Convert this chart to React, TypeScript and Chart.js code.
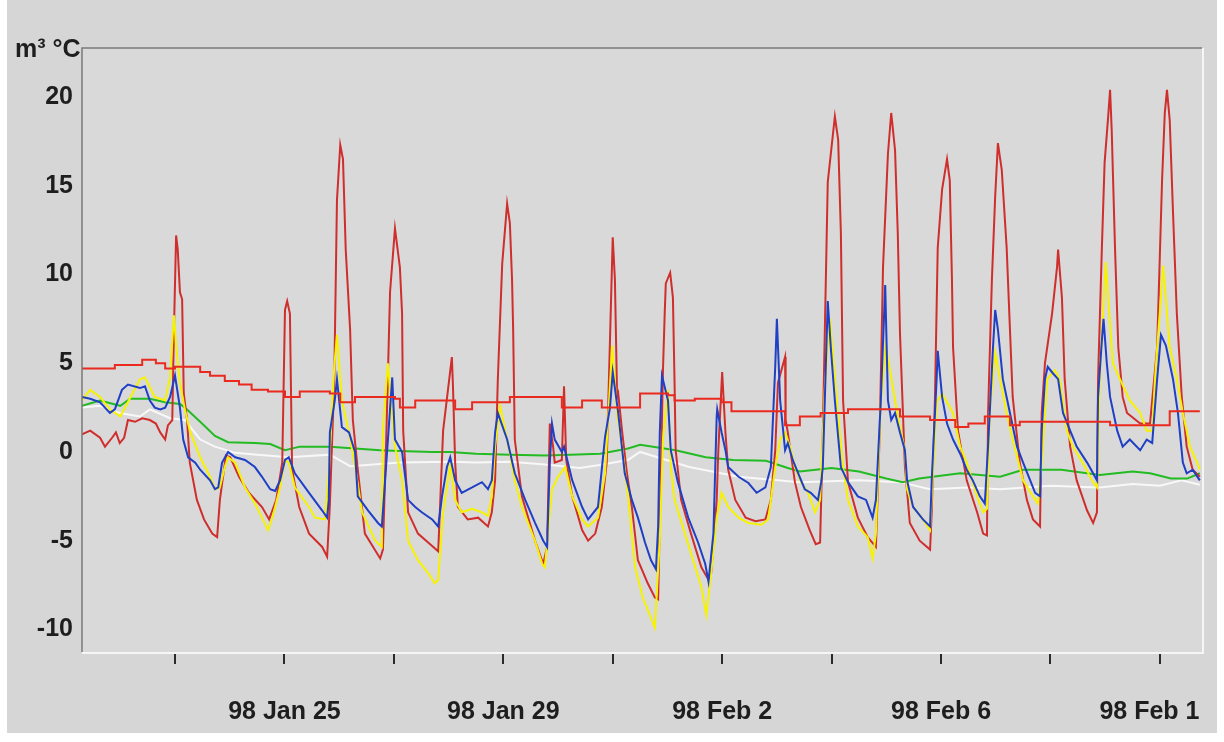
import React, { useEffect, useRef } from 'react';
import { Chart, registerables } from 'chart.js';

Chart.register(...registerables);

// ---- axis definitions ----
const xMinDay = 21.3;
const xMaxDay = 41.77;
const yMinVal = -11.27;
const yMaxVal = 22.76;
const xTickDays = [23, 25, 27, 29, 31, 33, 35, 37, 39, 41];
const xLabelDays = [25, 29, 33, 37, 41];
const xLabelTexts = ['98 Jan 25', '98 Jan 29', '98 Feb 2', '98 Feb 6', '98 Feb 1   '];
const yTickValues = [-10, -5, 0, 5, 10, 15, 20];
const unitLabel = 'm³ °C';

// ---- series: [day (Jan 23 = 23, Feb 2 = 33), value] ----
const redStep: number[][] = [
  [21.3, 4.7], [21.63, 4.7], [21.9, 4.9], [22.27, 4.9], [22.4, 5.2], [22.65, 5.0], [22.82, 4.7],
  [23.0, 4.8], [23.18, 4.8], [23.46, 4.5], [23.64, 4.3], [23.91, 4.0], [24.17, 3.8], [24.4, 3.5],
  [24.7, 3.4], [25.01, 3.1], [25.28, 3.4], [25.83, 3.3], [26.02, 2.8], [26.29, 3.1], [26.6, 3.1],
  [27.02, 3.0], [27.11, 2.5], [27.39, 2.9], [28.03, 2.9], [28.12, 2.4], [28.43, 2.8], [29.12, 3.1],
  [29.76, 3.1], [30.07, 2.5], [30.44, 2.9], [30.8, 2.5], [31.26, 2.5], [31.5, 3.3], [32.01, 3.2],
  [32.13, 2.9], [32.5, 3.0], [32.99, 2.8], [33.17, 2.3], [33.89, 2.3], [34.15, 1.5], [34.42, 2.0],
  [34.8, 2.2], [35.3, 2.4], [35.88, 2.4], [36.25, 2.0], [36.8, 1.8], [37.26, 1.4], [37.5, 1.6],
  [37.8, 2.0], [38.26, 1.5], [38.44, 1.7], [39.9, 1.7], [40.09, 1.5], [41.11, 1.5], [41.18, 2.3],
  [41.73, 2.3],
];

const redSpiky: number[][] = [
  [21.3, 1.0], [21.45, 1.2], [21.63, 0.8], [21.72, 0.3], [21.85, 0.8], [21.92, 1.1], [21.99, 0.5],
  [22.07, 0.8], [22.14, 1.8], [22.27, 1.7], [22.4, 1.9], [22.54, 1.8], [22.65, 1.6], [22.73, 1.1],
  [22.82, 0.7], [22.87, 1.5], [22.95, 1.8], [22.98, 6.8], [23.02, 12.2], [23.05, 11.4], [23.09, 9.0],
  [23.13, 8.6], [23.16, 3.3], [23.22, 1.8], [23.27, -0.6], [23.4, -2.7], [23.53, -3.8], [23.68, -4.6],
  [23.77, -4.8], [23.82, -2.7], [23.93, -0.2], [24.01, -0.3], [24.17, -1.4], [24.35, -2.3],
  [24.59, -3.1], [24.72, -3.8], [24.85, -2.7], [24.96, -0.6], [25.01, 8.0], [25.05, 8.5], [25.1, 7.8],
  [25.14, -1.0], [25.27, -3.1], [25.45, -4.6], [25.69, -5.35], [25.78, -5.9], [25.83, -3.0],
  [25.91, 4.0], [25.96, 14.2], [26.02, 17.3], [26.07, 16.5], [26.12, 11.4], [26.2, 6.9], [26.25, 1.8],
  [26.34, -1.0], [26.47, -4.6], [26.75, -6.0], [26.8, -5.5], [26.87, 1.8], [26.93, 9.0], [27.02, 12.6],
  [27.11, 10.4], [27.15, 7.8], [27.17, 1.2], [27.26, -3.4], [27.44, -4.6], [27.7, -5.3], [27.81, -5.6],
  [27.84, -3.4], [27.9, 1.2], [28.06, 5.35], [28.08, 3.7], [28.12, -0.6], [28.17, -3.1], [28.35, -3.8],
  [28.54, -3.7], [28.72, -4.2], [28.79, -3.4], [28.85, -1.6], [28.9, 4.1], [28.98, 10.6], [29.07, 14.0],
  [29.12, 12.9], [29.16, 9.7], [29.18, 6.9], [29.21, 0.7], [29.34, -2.5], [29.58, -5.0], [29.73, -6.3],
  [29.8, -5.35], [29.85, 1.6], [29.91, 0.3], [29.94, -0.6], [30.07, -0.45], [30.11, 3.7], [30.15, -0.45],
  [30.26, -2.5], [30.44, -4.4], [30.55, -5.0], [30.68, -4.6], [30.8, -3.1], [30.89, -0.6], [31.0, 12.1],
  [31.04, 9.7], [31.08, 3.1], [31.1, 3.3], [31.17, 1.2], [31.26, -1.2], [31.35, -3.1], [31.46, -6.1],
  [31.64, -7.4], [31.77, -8.2], [31.83, -8.3], [31.92, 4.8], [31.95, 7.8], [31.97, 9.5], [32.05, 10.1],
  [32.1, 8.7], [32.13, 3.9], [32.15, 0.1], [32.25, -2.7], [32.43, -4.6], [32.62, -6.5], [32.75, -7.2],
  [32.8, -6.8], [32.9, -2.7], [32.93, 0.1], [33.0, 4.5], [33.06, 1.1], [33.11, -1.0], [33.24, -2.7],
  [33.43, -3.7], [33.61, -3.9], [33.79, -3.8], [33.89, -2.7], [33.97, 0.1], [34.02, 3.9], [34.15, 5.35],
  [34.16, 1.8], [34.2, 1.1], [34.33, -1.7], [34.44, -3.1], [34.6, -4.4], [34.71, -5.2], [34.79, -5.1],
  [34.84, 1.1], [34.93, 15.2], [35.06, 18.9], [35.12, 17.6], [35.17, 12.3], [35.21, 2.9], [35.3, -1.7],
  [35.48, -3.7], [35.66, -4.8], [35.81, -5.35], [35.88, 1.1], [35.94, 10.4], [36.03, 16.8], [36.09, 19.1],
  [36.16, 17.0], [36.21, 12.3], [36.25, 6.7], [36.34, -0.8], [36.43, -4.0], [36.61, -5.0], [36.8, -5.5],
  [36.83, -3.4], [36.89, 3.1], [36.94, 11.5], [37.02, 14.8], [37.11, 16.5], [37.16, 15.3], [37.2, 9.7],
  [37.22, 5.9], [37.31, 1.2], [37.47, -1.6], [37.66, -3.4], [37.77, -4.6], [37.84, -4.7], [37.86, 2.2],
  [37.93, 9.7], [37.99, 14.4], [38.04, 17.4], [38.11, 15.9], [38.2, 11.5], [38.26, 6.9], [38.31, 3.1],
  [38.44, -0.6], [38.57, -2.7], [38.68, -3.8], [38.81, -4.2], [38.84, 2.2], [38.9, 5.0], [39.03, 7.8],
  [39.12, 10.4], [39.14, 11.4], [39.21, 8.7], [39.26, 4.1], [39.36, 0.3], [39.48, -1.6], [39.67, -3.3],
  [39.78, -4.0], [39.85, -3.4], [39.87, 4.1], [39.94, 11.5], [39.99, 16.3], [40.05, 18.7], [40.09, 20.4],
  [40.12, 18.1], [40.18, 11.5], [40.24, 5.9], [40.32, 3.1], [40.4, 2.2], [40.64, 1.6], [40.82, 1.6],
  [40.95, 5.9], [41.04, 15.3], [41.09, 19.1], [41.13, 20.4], [41.18, 18.7], [41.24, 13.5], [41.31, 7.8],
  [41.4, 3.1], [41.49, 0.3], [41.6, -1.0], [41.73, -1.4],
];

const yellow: number[][] = [
  [21.3, 2.9], [21.45, 3.5], [21.63, 3.1], [21.81, 2.4], [22.0, 2.0], [22.36, 4.1], [22.45, 4.2],
  [22.63, 3.1], [22.82, 2.9], [22.91, 4.2], [22.98, 7.7], [23.02, 6.0], [23.09, 3.9], [23.18, 2.4],
  [23.27, 1.2], [23.46, -0.3], [23.64, -1.4], [23.73, -2.1], [23.82, -2.0], [23.91, -0.85], [23.97, -0.3],
  [24.1, -0.6], [24.28, -2.0], [24.46, -2.9], [24.59, -3.7], [24.7, -4.4], [24.77, -3.8], [24.92, -2.0],
  [25.01, -0.45], [25.08, -0.6], [25.19, -2.0], [25.45, -3.1], [25.56, -3.7], [25.74, -3.8], [25.81, -1.2],
  [25.91, 4.8], [25.96, 6.6], [26.05, 2.9], [26.18, 1.1], [26.29, -0.8], [26.42, -3.4], [26.66, -5.0],
  [26.78, -5.35], [26.8, 1.2], [26.89, 5.0], [27.02, 0.3], [27.15, -1.6], [27.26, -5.0], [27.44, -6.1],
  [27.62, -6.8], [27.75, -7.4], [27.81, -7.2], [27.9, -3.4], [28.03, -0.7], [28.12, -2.7], [28.24, -3.4],
  [28.43, -3.2], [28.61, -3.4], [28.72, -3.6], [28.79, -2.5], [28.85, 0.3], [28.94, 2.6], [29.07, 0.7],
  [29.21, -1.6], [29.34, -3.1], [29.58, -5.0], [29.71, -6.3], [29.76, -6.5], [29.82, -4.4], [29.89, -2.1],
  [30.0, -1.4], [30.13, -0.85], [30.26, -2.5], [30.44, -3.8], [30.55, -4.2], [30.73, -3.7], [30.86, -1.2],
  [30.99, 6.0], [31.08, 2.2], [31.17, 0.3], [31.28, -2.5], [31.37, -5.35], [31.41, -6.5], [31.55, -8.2],
  [31.64, -8.9], [31.77, -9.9], [31.86, -5.0], [31.92, 0.8], [32.01, 3.5], [32.06, -0.8], [32.13, -2.7],
  [32.32, -4.6], [32.51, -6.5], [32.62, -7.6], [32.71, -9.2], [32.8, -6.8], [32.9, -3.7], [32.99, -2.3],
  [33.11, -3.1], [33.3, -3.7], [33.48, -4.0], [33.72, -4.1], [33.84, -3.8], [33.89, -2.7], [33.97, -0.85],
  [34.06, 0.7], [34.15, 1.1], [34.24, 0.3], [34.33, -0.85], [34.44, -1.7], [34.57, -2.3], [34.7, -3.4],
  [34.79, -2.7], [34.88, 3.9], [34.97, 7.5], [35.12, 2.0], [35.21, -0.85], [35.3, -2.7], [35.48, -4.2],
  [35.66, -4.8], [35.75, -6.0], [35.81, -4.6], [35.9, 2.9], [35.99, 6.0], [36.09, 4.2], [36.21, 2.0],
  [36.34, 0.1], [36.38, -2.1], [36.49, -3.1], [36.67, -3.8], [36.8, -4.4], [36.83, -2.5], [36.92, 2.8],
  [37.02, 3.3], [37.22, 2.2], [37.35, 0.3], [37.47, -0.6], [37.66, -2.5], [37.77, -3.4], [37.84, -3.2],
  [37.89, 2.2], [37.99, 5.6], [38.08, 4.1], [38.2, 2.2], [38.31, 0.7], [38.5, -1.6], [38.68, -2.5],
  [38.77, -2.9], [38.84, -0.6], [38.94, 4.1], [39.08, 4.6], [39.17, 4.1], [39.3, 1.2], [39.41, 0.3],
  [39.59, -0.6], [39.76, -1.6], [39.85, -2.0], [39.9, 4.1], [40.01, 10.7], [40.14, 5.0], [40.27, 4.1],
  [40.45, 2.9], [40.64, 2.2], [40.76, 1.2], [40.86, 1.2], [40.91, 4.1], [41.06, 10.5], [41.18, 5.9],
  [41.31, 4.1], [41.42, 2.2], [41.55, 0.3], [41.68, -0.6], [41.73, -1.0],
];

const blue: number[][] = [
  [21.3, 3.1], [21.45, 3.0], [21.63, 2.8], [21.81, 2.2], [21.9, 2.4], [22.03, 3.5], [22.14, 3.8],
  [22.36, 3.6], [22.45, 3.7], [22.54, 2.9], [22.63, 2.5], [22.73, 2.4], [22.82, 2.5], [22.91, 3.1],
  [23.0, 4.3], [23.09, 2.5], [23.15, 0.7], [23.24, -0.3], [23.37, -0.6], [23.46, -1.0], [23.64, -1.6],
  [23.73, -2.1], [23.79, -2.0], [23.86, -0.6], [23.97, 0.0], [24.1, -0.3], [24.28, -0.45], [24.46, -0.85],
  [24.59, -1.4], [24.74, -2.1], [24.83, -2.2], [24.92, -1.6], [25.01, -0.45], [25.08, -0.3], [25.19, -1.2],
  [25.45, -2.3], [25.69, -3.3], [25.78, -3.7], [25.81, -2.7], [25.83, 1.1], [25.92, 2.9], [25.96, 4.1],
  [26.05, 1.4], [26.18, 1.1], [26.29, 0.0], [26.34, -2.5], [26.53, -3.3], [26.71, -4.0], [26.78, -4.2],
  [26.84, -1.6], [26.97, 4.2], [27.02, 0.7], [27.15, 0.0], [27.26, -2.7], [27.39, -3.1], [27.51, -3.4],
  [27.7, -3.8], [27.81, -4.2], [27.88, -2.5], [27.97, -0.85], [28.03, -0.3], [28.12, -1.6], [28.24, -2.3],
  [28.43, -2.0], [28.61, -1.7], [28.72, -2.1], [28.79, -1.6], [28.85, 1.1], [28.9, 2.2], [29.07, 0.7],
  [29.21, -1.2], [29.4, -2.7], [29.58, -4.0], [29.73, -5.0], [29.8, -5.35], [29.85, -0.6], [29.89, 1.6],
  [29.94, 0.7], [30.07, 0.0], [30.11, 0.3], [30.26, -1.6], [30.44, -3.1], [30.55, -3.8], [30.73, -3.1],
  [30.86, 0.85], [30.95, 2.5], [31.0, 4.5], [31.1, 2.2], [31.22, -1.2], [31.35, -2.7], [31.46, -3.7],
  [31.59, -5.1], [31.7, -6.1], [31.79, -6.6], [31.83, -4.2], [31.86, 1.1], [31.9, 4.3], [32.01, 2.9],
  [32.06, 0.1], [32.19, -1.7], [32.38, -3.7], [32.56, -5.1], [32.69, -6.3], [32.75, -7.3], [32.84, -4.6],
  [32.9, 2.0], [32.91, 2.4], [32.99, 1.1], [33.06, 0.1], [33.11, -0.85], [33.3, -1.4], [33.48, -1.75],
  [33.63, -2.3], [33.79, -2.0], [33.89, -0.85], [33.97, 4.8], [34.0, 7.5], [34.06, 2.9], [34.15, 0.1],
  [34.2, 0.5], [34.29, -0.45], [34.39, -1.2], [34.51, -2.1], [34.62, -2.3], [34.75, -2.7], [34.81, -1.7],
  [34.84, -0.85], [34.93, 8.5], [34.99, 5.7], [35.06, 2.9], [35.17, -0.85], [35.3, -1.7], [35.48, -2.5],
  [35.63, -2.7], [35.75, -3.7], [35.81, -2.7], [35.9, 2.9], [35.98, 9.4], [36.03, 2.9], [36.09, 1.8],
  [36.16, 2.2], [36.25, 1.1], [36.34, 0.1], [36.38, -1.6], [36.49, -3.1], [36.67, -3.8], [36.8, -4.2],
  [36.83, -1.6], [36.92, 4.1], [36.94, 5.7], [37.02, 3.1], [37.11, 1.6], [37.22, 0.7], [37.35, -0.1],
  [37.47, -1.0], [37.58, -1.6], [37.71, -2.5], [37.8, -2.9], [37.86, 0.3], [37.95, 5.9], [37.99, 8.0],
  [38.04, 6.9], [38.13, 4.1], [38.26, 2.2], [38.39, 0.3], [38.5, -0.6], [38.63, -1.6], [38.72, -2.3],
  [38.81, -2.5], [38.84, 1.2], [38.9, 4.1], [38.95, 4.8], [39.04, 4.45], [39.14, 4.1], [39.23, 2.2],
  [39.36, 1.2], [39.48, 0.3], [39.67, -0.6], [39.78, -1.2], [39.85, -1.6], [39.87, 3.1], [39.94, 6.3],
  [39.97, 7.5], [40.03, 5.0], [40.09, 3.1], [40.22, 1.2], [40.32, 0.3], [40.45, 0.7], [40.64, 0.1],
  [40.76, 0.7], [40.86, 0.5], [40.95, 4.1], [41.02, 6.6], [41.11, 6.0], [41.24, 4.1], [41.33, 2.2],
  [41.42, -0.6], [41.49, -1.2], [41.6, -1.0], [41.73, -1.6],
];

const green: number[][] = [
  [21.3, 2.6], [21.63, 2.9], [22.0, 2.6], [22.18, 3.0], [22.54, 3.0], [22.82, 2.8], [23.09, 2.7],
  [23.18, 2.5], [23.46, 1.7], [23.73, 0.9], [23.97, 0.55], [24.46, 0.5], [24.74, 0.45], [25.01, 0.1],
  [25.28, 0.3], [25.83, 0.3], [26.29, 0.2], [26.75, 0.1], [27.11, 0.05], [27.7, 0.0], [28.03, 0.0],
  [28.5, -0.1], [29.12, -0.15], [29.76, -0.2], [30.22, -0.15], [30.77, -0.1], [31.28, 0.2], [31.5, 0.4],
  [32.15, 0.1], [32.7, -0.3], [33.2, -0.45], [33.8, -0.5], [34.2, -0.9], [34.42, -1.1], [35.0, -0.9],
  [35.5, -1.1], [36.0, -1.5], [36.3, -1.7], [36.6, -1.5], [37.35, -1.2], [38.08, -1.4], [38.5, -1.0],
  [39.2, -1.0], [39.9, -1.3], [40.5, -1.1], [40.82, -1.2], [41.2, -1.5], [41.5, -1.5], [41.73, -1.2],
];

const white: number[][] = [
  [21.3, 2.5], [21.63, 2.6], [21.99, 2.2], [22.36, 2.0], [22.54, 2.4], [22.91, 1.9], [23.18, 1.8],
  [23.46, 0.7], [23.73, 0.3], [24.1, -0.05], [24.5, -0.15], [25.1, -0.3], [25.83, -0.15], [26.2, -0.8],
  [27.11, -0.6], [28.03, -0.55], [28.5, -0.6], [29.12, -0.55], [29.76, -0.7], [30.4, -0.9], [30.73, -0.75],
  [31.28, -0.45], [31.5, 0.0], [32.4, -0.85], [33.3, -1.4], [34.42, -1.7], [35.5, -1.6], [36.25, -1.7],
  [36.8, -2.1], [37.5, -2.0], [38.08, -2.1], [39.0, -1.9], [39.9, -2.0], [40.5, -1.8], [41.0, -1.9],
  [41.4, -1.6], [41.73, -1.85],
];

const FONT_FAMILY = '"Liberation Sans", Arial, Helvetica, sans-serif';

const toPoints = (arr: number[][]) => arr.map(([x, y]) => ({ x, y }));

export default function App() {
  const canvasRef = useRef<HTMLCanvasElement | null>(null);

  useEffect(() => {
    const canvas = canvasRef.current;
    if (!canvas) return;

    const framePlugin = {
      id: 'framePlugin',
      beforeDraw(chart: any) {
        const { ctx, chartArea: a } = chart;
        ctx.save();
        ctx.fillStyle = '#ffffff';
        ctx.fillRect(0, 0, chart.width, chart.height);
        ctx.fillStyle = '#d6d6d6';
        ctx.fillRect(7, 0, 1210, 733);
        ctx.fillStyle = '#d9d9d9';
        ctx.fillRect(a.left, a.top, a.right - a.left, a.bottom - a.top);
        ctx.restore();
      },
      afterDraw(chart: any) {
        const { ctx, chartArea: a } = chart;
        ctx.save();
        ctx.lineWidth = 2;
        ctx.strokeStyle = '#f6f6f6';
        ctx.beginPath();
        ctx.moveTo(a.left, a.bottom + 1);
        ctx.lineTo(a.right + 1, a.bottom + 1);
        ctx.lineTo(a.right + 1, a.top);
        ctx.stroke();
        ctx.lineWidth = 1.5;
        ctx.strokeStyle = '#7a7a7a';
        ctx.beginPath();
        ctx.moveTo(a.left, a.bottom);
        ctx.lineTo(a.left, a.top);
        ctx.lineTo(a.right, a.top);
        ctx.stroke();
        ctx.fillStyle = '#1e1e1e';
        ctx.font = `bold 25px ${FONT_FAMILY}`;
        ctx.textAlign = 'left';
        ctx.textBaseline = 'alphabetic';
        ctx.fillText(unitLabel, 15, 57);
        ctx.restore();
      },
    };

    const mk = (label: string, arr: number[][], color: string, extra: any = {}) => ({
      label,
      data: toPoints(arr),
      borderColor: color,
      backgroundColor: color,
      borderWidth: 2,
      pointRadius: 0,
      tension: 0,
      fill: false,
      ...extra,
    });

    const chart = new Chart(canvas, {
      type: 'line',
      data: {
        datasets: [
          mk('red step', redStep, '#ea2a1f', { stepped: true }),
          mk('blue', blue, '#1f3fc4'),
          mk('yellow', yellow, '#f6f200'),
          mk('red', redSpiky, '#cf2e2c'),
          mk('green', green, '#22bb22'),
          mk('white', white, '#f8f8f8'),
        ],
      },
      options: {
        responsive: false,
        maintainAspectRatio: false,
        animation: false,
        devicePixelRatio: 1,
        layout: { padding: { top: 48, right: 22, left: 0, bottom: 0 } },
        plugins: {
          legend: { display: false },
          tooltip: { enabled: false },
        },
        scales: {
          x: {
            type: 'linear',
            min: xMinDay,
            max: xMaxDay,
            afterBuildTicks: (scale: any) => {
              scale.ticks = xTickDays.map((v) => ({ value: v }));
            },
            afterFit: (scale: any) => {
              scale.height = 90;
              scale.paddingLeft = 0;
              scale.paddingRight = 0;
            },
            border: { display: false },
            grid: {
              display: true,
              drawOnChartArea: false,
              drawTicks: true,
              tickLength: 12,
              color: '#2a2a2a',
              lineWidth: 2,
            },
            ticks: {
              autoSkip: false,
              maxRotation: 0,
              minRotation: 0,
              padding: 33,
              color: '#1e1e1e',
              font: { family: FONT_FAMILY, size: 25, weight: 'bold' },
              callback: (value: any) => {
                const i = xLabelDays.indexOf(Number(value));
                return i >= 0 ? xLabelTexts[i] : '';
              },
            },
          },
          y: {
            type: 'linear',
            min: yMinVal,
            max: yMaxVal,
            afterBuildTicks: (scale: any) => {
              scale.ticks = yTickValues.map((v) => ({ value: v }));
            },
            afterFit: (scale: any) => {
              scale.width = 82;
              scale.paddingTop = 0;
              scale.paddingBottom = 0;
            },
            border: { display: false },
            grid: { display: false, drawTicks: false },
            ticks: {
              padding: 9,
              color: '#1e1e1e',
              font: { family: FONT_FAMILY, size: 25, weight: 'bold' },
              callback: (value: any) => String(value),
            },
          },
        },
      },
      plugins: [framePlugin],
    } as any);

    return () => {
      chart.destroy();
    };
  }, []);

  return (
    <div style={{ position: 'fixed', left: 0, top: 0, width: 1224, height: 742, background: '#ffffff' }}>
      <canvas ref={canvasRef} width={1224} height={742} style={{ display: 'block', width: 1224, height: 742 }} />
    </div>
  );
}
